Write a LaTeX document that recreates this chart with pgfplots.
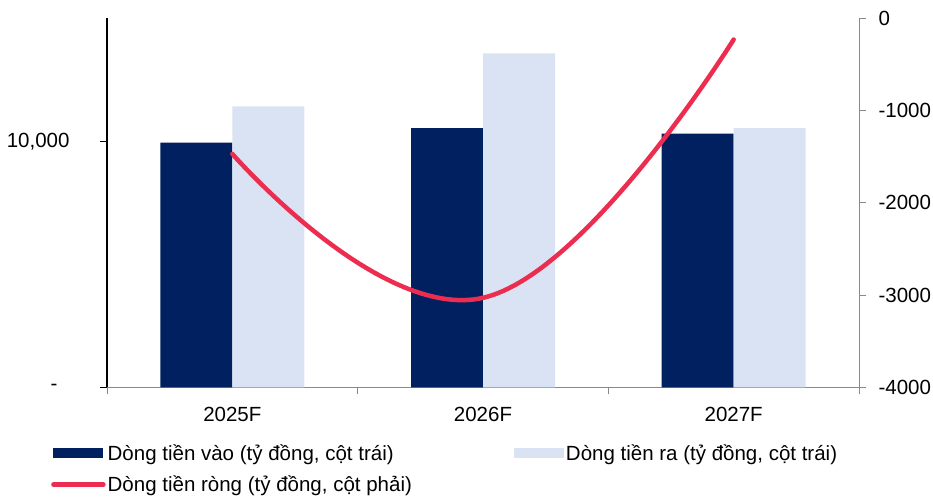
\documentclass[border=0pt]{standalone}
\usepackage{fontspec}
\setmainfont{Liberation Sans}
\usepackage{pgfplots}
\pgfplotsset{compat=1.18}

\definecolor{inflow}{HTML}{002060}
\definecolor{outflow}{HTML}{DAE3F3}
\definecolor{netflow}{HTML}{EC2D4F}
\definecolor{axisgray}{HTML}{898989}

\begin{document}
\begin{tikzpicture}[x=1pt,y=1pt]
\useasboundingbox (0,0) rectangle (933,496);
\pgfplotsset{every axis/.append style={font=\fontsize{20.5}{24}\selectfont}}

% Left axis: cash inflow and outflow bars
\begin{axis}[
  at={(107pt,108.7pt)}, anchor=south west,
  scale only axis, width=752pt, height=369pt,
  xmin=-0.5, xmax=2.5, ymin=0, ymax=15000,
  axis x line*=bottom, axis y line*=left,
  x axis line style={axisgray, line width=1pt},
  y axis line style={black, line width=1.2pt},
  tick align=outside, major tick length=7pt,
  xtick={-0.5,0.5,1.5,2.5}, x tick label as interval,
  xticklabels={2025F,2026F,2027F},
  xtick style={axisgray, line width=1pt},
  xticklabel style={yshift=-9pt},
  scaled y ticks=false,
  ytick={0,10000}, yticklabels={{-\hspace*{12pt}},{10,000}},
  ytick style={black, line width=1.2pt},
  yticklabel style={xshift=-27pt},
  ybar=0pt, bar width=72pt,
  legend columns=2, legend cell align=left,
  legend style={draw=none, fill=none, inner sep=0pt,
    at={(axis description cs:-0.0745,-0.15)}, anchor=north west,
    /tikz/every even column/.append style={column sep=100pt},
    row sep=10pt},
]
\addplot[fill=inflow, draw=none,
  legend image code/.code={\fill[inflow] (0pt,-5pt) rectangle (50pt,5pt);}]
  coordinates {(0,9950) (1,10540) (2,10310)};
\addlegendentry{Dòng tiền vào (tỷ đồng, cột trái)}
\addplot[fill=outflow, draw=none,
  legend image code/.code={\fill[outflow] (0pt,-5pt) rectangle (50pt,5pt);}]
  coordinates {(0,11420) (1,13570) (2,10540)};
\addlegendentry{Dòng tiền ra (tỷ đồng, cột trái)}
\addlegendimage{legend image code/.code={\path[draw=none, fill=none] (0pt,-5pt) rectangle (50pt,5pt); \draw[netflow, line width=4.5pt, line cap=round] (0pt,0pt) -- (50pt,0pt);}}
\addlegendentry{Dòng tiền ròng (tỷ đồng, cột phải)}
\end{axis}

% Right axis: net cash flow line
\begin{axis}[
  at={(107pt,108.7pt)}, anchor=south west,
  scale only axis, width=752pt, height=369pt,
  xmin=-0.5, xmax=2.5, ymin=-4000, ymax=0,
  axis x line=none, axis y line*=right,
  y axis line style={axisgray, line width=1pt},
  tick align=outside, major tick length=7pt,
  ytick={-4000,-3000,-2000,-1000,0},
  yticklabels={-4000,-3000,-2000,-1000,0},
  ytick style={axisgray, line width=1pt},
  yticklabel style={xshift=9pt},
]
\addplot[netflow, line width=4.5pt, line cap=round, smooth, tension=0.75, mark=none]
  coordinates {(0,-1470) (1,-3030) (2,-230)};
\end{axis}
\end{tikzpicture}
\end{document}
